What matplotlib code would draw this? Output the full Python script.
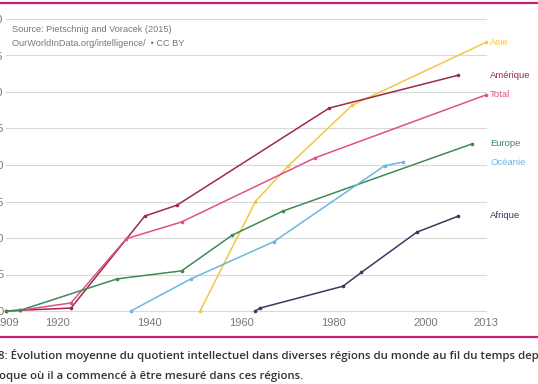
import matplotlib
matplotlib.use("Agg")
import matplotlib.pyplot as plt
from matplotlib.lines import Line2D

# ---- data (year, IQ gain) ----
asie_x = [1951, 1963, 1970, 1984, 2013]
asie_y = [0.0, 15.0, 19.8, 28.2, 36.8]

amerique_x = [1909, 1912, 1923, 1939, 1946, 1979, 2007]
amerique_y = [0.0, 0.1, 0.4, 13.0, 14.5, 27.8, 32.3]

total_x = [1909, 1912, 1923, 1935, 1947, 1976, 2013]
total_y = [0.0, 0.1, 1.1, 9.9, 12.2, 21.0, 29.6]

europe_x = [1909, 1912, 1933, 1947, 1958, 1969, 2010]
europe_y = [0.0, 0.1, 4.4, 5.5, 10.4, 13.7, 22.9]

oceanie_x = [1936, 1949, 1967, 1991, 1995]
oceanie_y = [0.0, 4.4, 9.5, 19.9, 20.4]

afrique_x = [1963, 1964, 1982, 1986, 1998, 2007]
afrique_y = [0.0, 0.4, 3.4, 5.3, 10.8, 13.0]

series = [
    ("Asie", asie_x, asie_y, "#f2c744", 36.8),
    ("Amérique", amerique_x, amerique_y, "#9b2d45", 32.3),
    ("Total", total_x, total_y, "#e0508a", 29.6),
    ("Europe", europe_x, europe_y, "#3f8a57", 22.9),
    ("Océanie", oceanie_x, oceanie_y, "#6cb6de", 20.4),
    ("Afrique", afrique_x, afrique_y, "#3c3862", 13.0),
]
label_y = {"Asie": 36.8, "Amérique": 32.3, "Total": 29.6,
           "Europe": 22.9, "Océanie": 20.4, "Afrique": 13.1}

xticks = [1909, 1920, 1940, 1960, 1980, 2000, 2013]
yticks = [0, 5, 10, 15, 20, 25, 30, 35, 40]

W, H = 538, 384
fig = plt.figure(figsize=(W / 100, H / 100), dpi=100)
fig.patch.set_facecolor("white")
ax = fig.add_axes([6.4 / W, (H - 311) / H, 479.6 / W, 292 / H])
ax.set_xlim(1909, 2013)
ax.set_ylim(0, 40)

for name, xs, ys, col, _ in series:
    ax.plot(xs, ys, color=col, lw=1.1, marker="o", ms=1.6, clip_on=False, zorder=3)
    ax.text(1917 + 2013 - 1917 + 0.9, label_y[name], name, color=col,
            fontsize=6.8, family="Liberation Sans", va="center", ha="left")

for v in yticks:
    ax.axhline(v, color="#d9d9d9", lw=0.8, zorder=1, clip_on=False)

for s in ax.spines.values():
    s.set_visible(False)
ax.set_xticks(xticks)
ax.set_xticklabels([str(t) for t in xticks], fontsize=8, color="#777777",
                   family="Liberation Sans")
ax.set_yticks(yticks)
ax.set_yticklabels([str(t) for t in yticks], fontsize=8, color="#777777",
                   family="Liberation Sans")
ax.tick_params(axis="both", length=0)
ax.tick_params(axis="y", pad=2.2)
ax.tick_params(axis="x", pad=5)

ax.text(12 / W, 1 - 29 / H, "Source: Pietschnig and Voracek (2015)",
        transform=fig.transFigure, fontsize=6.6, color="#777777",
        family="Liberation Sans", va="center")
ax.text(12 / W, 1 - 44 / H, "OurWorldInData.org/intelligence/  • CC BY",
        transform=fig.transFigure, fontsize=6.6, color="#777777",
        family="Liberation Sans", va="center")

# pink rules
fig.add_artist(Line2D([0, 1], [1 - 3 / H, 1 - 3 / H], color="#c2236f", lw=1.6,
                      transform=fig.transFigure))
fig.add_artist(Line2D([0, 1], [1 - 337 / H, 1 - 337 / H], color="#c2236f", lw=1.6,
                      transform=fig.transFigure))

fig.text(-2 / W, 1 - 356 / H,
         "8: Évolution moyenne du quotient intellectuel dans diverses régions du monde au fil du temps depuis l'é",
         fontsize=8.2, color="#333333", family="Open Sans", weight="semibold",
         va="center", ha="left")
fig.text(-1 / W, 1 - 376 / H,
         "oque où il a commencé à être mesuré dans ces régions.",
         fontsize=8.2, color="#333333", family="Open Sans", weight="semibold",
         va="center", ha="left")

fig.savefig("out.png", dpi=100)
